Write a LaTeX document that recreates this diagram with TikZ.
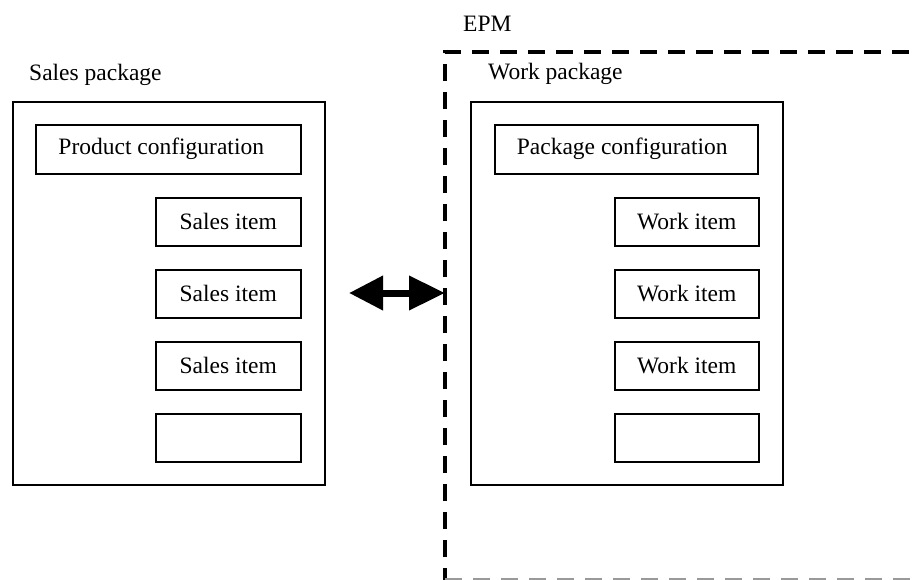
\documentclass[tikz,border=0pt]{standalone}
\usepackage{fontspec}
\setmainfont{Liberation Serif}
\usetikzlibrary{arrows.meta}
\begin{document}
\begin{tikzpicture}[x=1pt,y=-1pt,
  box/.style={draw, line width=1.5pt, inner sep=0pt, anchor=north west, font=\fontsize{23.5}{27}\selectfont},
  lbl/.style={inner sep=0pt, anchor=west, font=\fontsize{23.5}{27}\selectfont},
  epmline/.style={line width=4pt, dash pattern=on 17pt off 11pt},
  bigarrow/.style={line width=7pt, {Triangle[length=34pt 0,width=33pt 0]}-{Triangle[length=36pt 0,width=33pt 0]}}]
\useasboundingbox (0,0) rectangle (919,579);
\clip (0,0) rectangle (919,579);
\fill[white] (0,0) rectangle (919,579);
% EPM region
\draw[epmline] (445,585) -- (445,52) -- (935,52);
\draw[epmline, black!40] (445,579.5) -- (935,579.5);
\node[lbl] (epm) at (463,24) {EPM};
% Sales package
\node[lbl] (splbl) at (29,75) {Sales package};
\node[box, minimum width=312pt, minimum height=383pt] (sp) at (12,101) {};
\node[box, minimum width=265pt, minimum height=49pt] (pc) at (35,124) {Product configuration\hspace*{14pt}};
\node[box, minimum width=145pt, minimum height=48pt] (si1) at (155,197) {Sales item};
\node[box, minimum width=145pt, minimum height=48pt] (si2) at (155,269) {Sales item};
\node[box, minimum width=145pt, minimum height=48pt] (si3) at (155,341) {Sales item};
\node[box, minimum width=145pt, minimum height=48pt] (si4) at (155,413) {};
% Work package
\node[lbl] (wplbl) at (488,74) {Work package};
\node[box, minimum width=312pt, minimum height=383pt] (wp) at (470,101) {};
\node[box, minimum width=263pt, minimum height=49pt] (kc) at (494,124) {Package configuration\hspace*{8pt}};
\node[box, minimum width=144pt, minimum height=48pt] (wi1) at (614,197) {Work item};
\node[box, minimum width=144pt, minimum height=48pt] (wi2) at (614,269) {Work item};
\node[box, minimum width=144pt, minimum height=48pt] (wi3) at (614,341) {Work item};
\node[box, minimum width=144pt, minimum height=48pt] (wi4) at (614,413) {};
% arrow
\coordinate (aL) at (349,293);
\coordinate (aR) at (445,293);
\draw[bigarrow] (aL) -- (aR);
\end{tikzpicture}
\end{document}
